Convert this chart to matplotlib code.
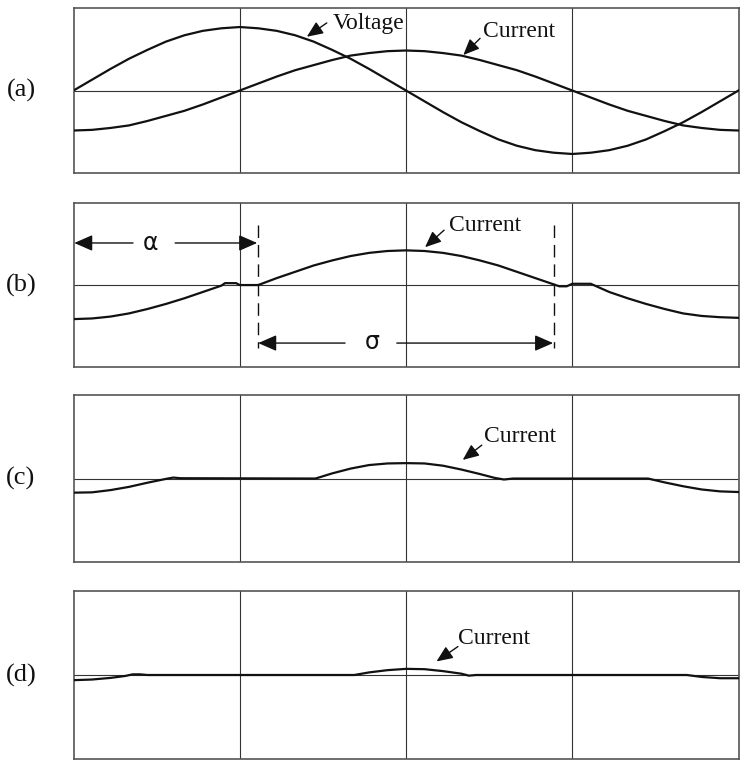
import matplotlib.pyplot as plt

# angle axis in degrees over one supply period
a_deg = [0, 10, 20, 30, 40, 50, 60, 70, 80, 90, 100, 110, 120, 130, 140, 150, 160, 170, 180,
         190, 200, 210, 220, 230, 240, 250, 260, 270, 280, 290, 300, 310, 320, 330, 340, 350, 360]
a_voltage = [0, 0.17, 0.34, 0.5, 0.64, 0.77, 0.87, 0.94, 0.98, 1.0, 0.98, 0.94, 0.87, 0.77,
             0.64, 0.5, 0.34, 0.17, 0, -0.17, -0.34, -0.5, -0.64, -0.77, -0.87, -0.94, -0.98,
             -1.0, -0.98, -0.94, -0.87, -0.77, -0.64, -0.5, -0.34, -0.17, 0]
a_current = [-0.63, -0.62, -0.59, -0.55, -0.48, -0.4, -0.32, -0.22, -0.11, 0, 0.11, 0.22, 0.32,
             0.4, 0.48, 0.55, 0.59, 0.62, 0.63, 0.62, 0.59, 0.55, 0.48, 0.4, 0.32, 0.22, 0.11,
             0, -0.11, -0.22, -0.32, -0.4, -0.48, -0.55, -0.59, -0.62, -0.63]

b_deg = [0, 10, 20, 30, 40, 50, 60, 70, 80, 82, 88, 90, 100,
         110, 120, 130, 140, 150, 160, 170, 180, 190, 200, 210, 220, 230, 240, 250, 261,
         263, 267, 270, 280, 290, 300, 310, 320, 330, 340, 350, 360]
b_current = [-0.54, -0.53, -0.5, -0.45, -0.38, -0.3, -0.21, -0.11, -0.01, 0.03, 0.03, 0.0, 0.0,
             0.11, 0.21, 0.31, 0.39, 0.46, 0.51, 0.54, 0.55, 0.54, 0.51, 0.46, 0.39, 0.31, 0.21, 0.11, 0.0,
             -0.02, -0.02, 0.02, 0.02, -0.11, -0.21, -0.3, -0.38, -0.45, -0.49, -0.51, -0.52]

c_deg = [0, 10, 20, 30, 40, 51, 54, 58, 131, 140, 150, 160, 170, 180, 190, 200, 210, 220, 228,
         233, 238, 311, 320, 330, 340, 350, 360]
c_current = [-0.22, -0.215, -0.18, -0.13, -0.065, 0.0, 0.015, 0.005, 0.0, 0.08, 0.155, 0.21, 0.235,
             0.24, 0.235, 0.2, 0.14, 0.07, 0.01, -0.015, 0.0, 0.0, -0.06, -0.12, -0.17, -0.2, -0.21]

d_deg = [0, 10, 20, 28, 32, 36, 40, 152, 160, 170, 180, 190, 200, 210, 214, 218, 332, 340, 350, 360]
d_current = [-0.08, -0.07, -0.045, -0.015, 0.01, 0.01, 0.0, 0.0, 0.04, 0.075, 0.095, 0.09, 0.06,
             0.02, -0.01, 0.0, 0.0, -0.03, -0.05, -0.05]

panel_labels = ["(a)", "(b)", "(c)", "(d)"]

# axes boxes in figure fraction: left, bottom, width, height
boxes = [
    [0.0987, 0.7747, 0.8926, 0.2149],
    [0.0987, 0.5221, 0.8926, 0.2135],
    [0.0987, 0.2682, 0.8926, 0.2174],
    [0.0987, 0.0117, 0.8926, 0.2188],
]

serif = "Liberation Serif"
ink = "#111111"

fig = plt.figure(figsize=(7.45, 7.68), dpi=100)
axes = []
for box, lab in zip(boxes, panel_labels):
    ax = fig.add_axes(box)
    ax.set_xlim(0, 360)
    ax.set_ylim(-1.3, 1.3)
    ax.set_xticks([])
    ax.set_yticks([])
    for s in ax.spines.values():
        s.set_color("#555555")
        s.set_linewidth(1.2)
    for gx in [90, 180, 270]:
        ax.axvline(gx, color="#333333", lw=0.8, zorder=1)
    ax.axhline(0, color="#333333", lw=0.8, zorder=1)
    ax.text(-0.079, 0.5, lab, transform=ax.transAxes, ha="center", va="center",
            fontsize=19, family=serif, color=ink)
    axes.append(ax)

arrow_kw = dict(arrowstyle="-|>,head_length=0.7,head_width=0.3", color=ink, lw=1.0,
                mutation_scale=14, shrinkA=0, shrinkB=0)


def label_arrow(ax, text, text_xy, tail, tip):
    ax.text(text_xy[0], text_xy[1], text, ha="left", va="center",
            fontsize=17, family=serif, color=ink)
    ax.annotate("", xy=tip, xytext=tail, arrowprops=arrow_kw)


# (a) voltage and current
ax = axes[0]
ax.plot(a_deg, a_voltage, color=ink, lw=1.6, zorder=3)
ax.plot(a_deg, a_current, color=ink, lw=1.6, zorder=3)
label_arrow(ax, "Voltage", (140.5, 1.05), (137.1, 1.065), (126.3, 0.847))
label_arrow(ax, "Current", (221.7, 0.93), (220.1, 0.822), (211.0, 0.559))

# (b) current with firing angle and conduction angle
ax = axes[1]
ax.plot(b_deg, b_current, color=ink, lw=1.6, zorder=3)
label_arrow(ax, "Current", (203.3, 0.94), (200.6, 0.87), (190.3, 0.60))
for vx in [100, 260]:
    ax.plot([vx, vx], [0.95, -1.0], color=ink, lw=1.0, linestyle=(0, (9, 5)), zorder=2)
dim_kw = dict(arrowstyle="-|>,head_length=0.8,head_width=0.35", color=ink, lw=1.0,
              mutation_scale=14, shrinkA=0, shrinkB=0)
ax.annotate("", xy=(0.4, 0.667), xytext=(32.2, 0.667), arrowprops=dim_kw)
ax.annotate("", xy=(99.4, 0.667), xytext=(55.0, 0.667), arrowprops=dim_kw)
ax.text(41.6, 0.667, "α", ha="center", va="center", fontsize=17, family="DejaVu Sans", color=ink)
ax.annotate("", xy=(100, -0.92), xytext=(147.0, -0.92), arrowprops=dim_kw)
ax.annotate("", xy=(259.6, -0.92), xytext=(175.0, -0.92), arrowprops=dim_kw)
ax.text(161.5, -0.90, "σ", ha="center", va="center", fontsize=17, family="DejaVu Sans", color=ink)

# (c) and (d) current at larger firing angles
ax = axes[2]
ax.plot(c_deg, c_current, color=ink, lw=1.6, zorder=3)
label_arrow(ax, "Current", (222.2, 0.66), (221.0, 0.52), (210.7, 0.29))

ax = axes[3]
ax.plot(d_deg, d_current, color=ink, lw=1.6, zorder=3)
label_arrow(ax, "Current", (208.2, 0.56), (208.1, 0.44), (196.5, 0.21))

fig.savefig("out.png", dpi=100)
